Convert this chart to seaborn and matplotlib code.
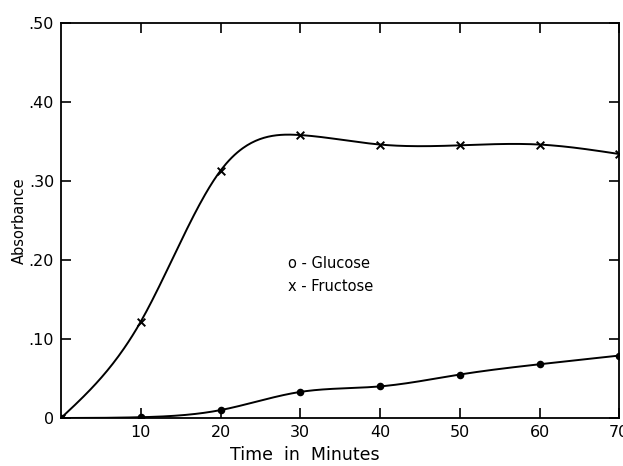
import numpy as np
import pandas as pd
import matplotlib
matplotlib.use("Agg")
import matplotlib.pyplot as plt
import seaborn as sns

# Data
time_min = [0, 10, 20, 30, 40, 50, 60, 70]
glucose = [0.0, 0.001, 0.010, 0.033, 0.040, 0.055, 0.068, 0.079]
fructose = [0.0, 0.122, 0.313, 0.358, 0.346, 0.345, 0.346, 0.334]
x_ticks = [10, 20, 30, 40, 50, 60, 70]
y_ticks = [0, 0.10, 0.20, 0.30, 0.40, 0.50]
y_ticklabels = ["0", ".10", ".20", ".30", ".40", ".50"]


def natural_spline(x, y, n=400):
    x = np.asarray(x, float)
    y = np.asarray(y, float)
    m = len(x)
    h = np.diff(x)
    A = np.zeros((m, m))
    b = np.zeros(m)
    A[0, 0] = 1
    A[-1, -1] = 1
    for i in range(1, m - 1):
        A[i, i - 1] = h[i - 1]
        A[i, i] = 2 * (h[i - 1] + h[i])
        A[i, i + 1] = h[i]
        b[i] = 3 * ((y[i + 1] - y[i]) / h[i] - (y[i] - y[i - 1]) / h[i - 1])
    c = np.linalg.solve(A, b)
    bb = np.zeros(m - 1)
    d = np.zeros(m - 1)
    for i in range(m - 1):
        bb[i] = (y[i + 1] - y[i]) / h[i] - h[i] * (2 * c[i] + c[i + 1]) / 3
        d[i] = (c[i + 1] - c[i]) / (3 * h[i])
    xs = np.linspace(x[0], x[-1], n)
    idx = np.clip(np.searchsorted(x, xs) - 1, 0, m - 2)
    dx = xs - x[idx]
    ys = y[idx] + bb[idx] * dx + c[idx] * dx ** 2 + d[idx] * dx ** 3
    return xs, ys


sns.set_theme(style="white")
plt.rcParams["font.family"] = ["DejaVu Sans"]
plt.rcParams["text.color"] = "black"
plt.rcParams["axes.labelcolor"] = "black"

fig = plt.figure(figsize=(6.23, 4.66), dpi=100)
ax = fig.add_axes([0.098, 0.103, 0.896, 0.848])

df = pd.DataFrame({"t": time_min, "Glucose": glucose, "Fructose": fructose})

for col, marker, ms in [("Glucose", "o", 5), ("Fructose", "x", 5)]:
    xs, ys = natural_spline(df["t"], df[col])
    sns.lineplot(x=xs, y=ys, ax=ax, color="black", linewidth=1.4)
    sns.scatterplot(x=df["t"], y=df[col], ax=ax, color="black", marker=marker,
                    s=ms ** 2 * 1.2, linewidth=1.4 if marker == "x" else 0,
                    edgecolor="black", zorder=5)

ax.set_xlim(0, 70)
ax.set_ylim(0, 0.50)
ax.set_xticks(x_ticks)
ax.set_xticklabels([str(v) for v in x_ticks])
ax.set_yticks(y_ticks)
ax.set_yticklabels(y_ticklabels)
ax.tick_params(direction="in", length=7, width=1.2, top=True, right=True,
               bottom=True, left=True, labelsize=11.5, colors="black", pad=5)
for sp in ax.spines.values():
    sp.set_color("black")
    sp.set_linewidth(1.3)

ax.set_xlabel("Time  in  Minutes", fontsize=12.5, color="black")
ax.xaxis.set_label_coords(0.437, -0.072)
ax.set_ylabel("Absorbance", fontsize=10.5, color="black")
ax.yaxis.set_label_coords(-0.062, 0.5)

ax.text(28.5, 0.196, "o - Glucose", fontsize=10.5, va="center", ha="left", color="black")
ax.text(28.5, 0.167, "x - Fructose", fontsize=10.5, va="center", ha="left", color="black")

fig.savefig("out.png", dpi=100, facecolor="white")
